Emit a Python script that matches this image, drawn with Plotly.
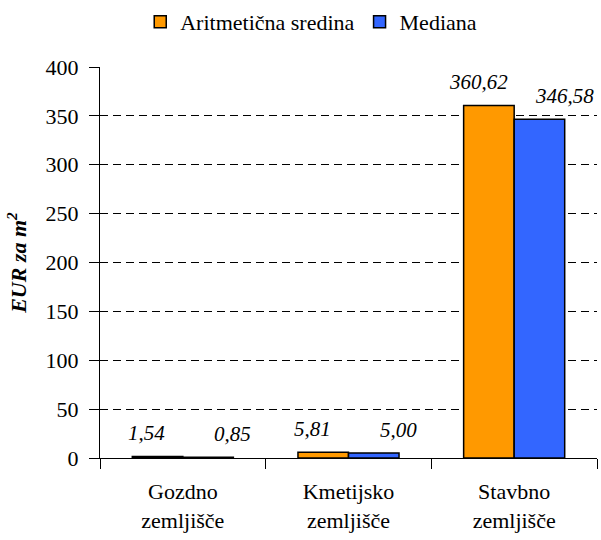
import plotly.graph_objects as go

# Land price per square metre by land type
categories = ["Gozdno<br>zemljišče", "Kmetijsko<br>zemljišče", "Stavbno<br>zemljišče"]
mean_values = [1.54, 5.81, 360.62]
median_values = [0.85, 5.00, 346.58]
mean_labels = ["1,54", "5,81", "360,62"]
median_labels = ["0,85", "5,00", "346,58"]
y_ticks = [0, 50, 100, 150, 200, 250, 300, 350, 400]

FONT = "Tinos, Liberation Serif, Times New Roman, DejaVu Serif, serif"

fig = go.Figure()
fig.add_trace(go.Bar(
    name="Aritmetična sredina", x=categories, y=mean_values,
    marker=dict(color="#FF9900", line=dict(color="black", width=1.5)),
))
fig.add_trace(go.Bar(
    name="Mediana", x=categories, y=median_values,
    marker=dict(color="#3366FF", line=dict(color="black", width=1.5)),
))

# Italic value labels above each bar
for vals, labels, dx in ((mean_values, mean_labels, -36), (median_values, median_labels, 50)):
    for cat, v, t in zip(categories, vals, labels):
        fig.add_annotation(
            x=cat, y=v, xref="x", yref="y", text=t, showarrow=False,
            xshift=dx, yshift=23, yanchor="middle",
            font=dict(family=FONT, size=21, color="black", style="italic"),
        )

fig.update_layout(
    template="none",
    width=601, height=540,
    font=dict(family=FONT, size=22, color="black"),
    margin=dict(l=100, r=4, t=67, b=82, autoexpand=False),
    paper_bgcolor="white", plot_bgcolor="white",
    barmode="group", bargap=0.39, bargroupgap=0,
    showlegend=True,
    legend=dict(
        orientation="h", x=0.425, xanchor="center", y=1.115, yanchor="middle",
        font=dict(family=FONT, size=22, color="black"),
        bgcolor="rgba(0,0,0,0)",
    ),
)
fig.update_xaxes(
    showline=True, linecolor="black", linewidth=1,
    ticks="outside", ticklen=10, tickcolor="black", tickson="boundaries",
    ticklabelstandoff=14,
    tickfont=dict(family=FONT, size=22, color="black"),
    showgrid=False, zeroline=False,
)
fig.update_yaxes(
    range=[0, 400], tickvals=y_ticks, ticktext=[str(v) for v in y_ticks],
    showline=True, linecolor="black", linewidth=1,
    ticks="outside", ticklen=10, tickcolor="black", ticklabelstandoff=6,
    tickfont=dict(family=FONT, size=22, color="black"),
    showgrid=True, gridcolor="black", gridwidth=1, griddash="8px,5px",
    zeroline=False,
    title=dict(text="<b><i>EUR za m<sup>2</sup></i></b>", standoff=12,
               font=dict(family=FONT, size=22, color="black")),
)

fig.write_html("out.html")
